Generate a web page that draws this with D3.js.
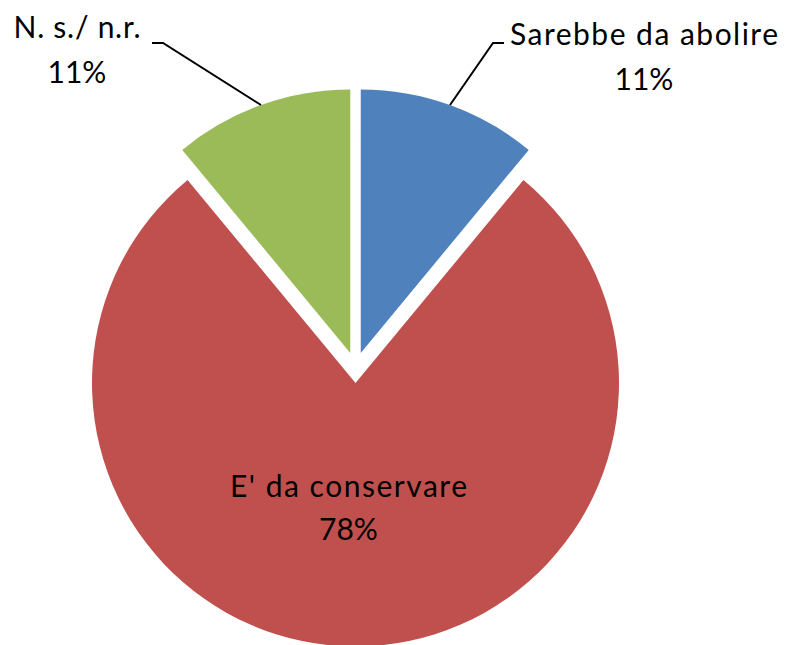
<!DOCTYPE html>
<html><head><meta charset="utf-8">
<script src="https://cdn.jsdelivr.net/npm/d3@7"></script>
<style>body{margin:0;background:#fff}svg{display:block}text{font-family:Lato,"Open Sans",sans-serif;fill:#000}</style>
</head><body>
<svg id="c" width="796" height="645"></svg>
<script>
const categories = ["Sarebbe da abolire", "E' da conservare", "N. s./ n.r."];
const values = [11, 78, 11];
const valueLabels = ["11%", "78%", "11%"];
const colors = ["#4F81BD", "#C0504D", "#9BBB59"];

const svg = d3.select("#c");
const cx = 355.5, cy = 367.5, R = 263.5, explode = 15.5;
const pie = d3.pie().sort(null).value(d => d)(values);
const arc = d3.arc().innerRadius(0).outerRadius(R);
const g = svg.append("g").attr("transform", `translate(${cx},${cy})`);

function offset(d){
  const a = (d.startAngle + d.endAngle)/2;
  return [explode*Math.sin(a), -explode*Math.cos(a)];
}
g.selectAll("path").data(pie).enter().append("path")
  .attr("d", arc)
  .attr("fill", (d,i) => colors[i])
  .attr("transform", d => { const o = offset(d); return `translate(${o[0]},${o[1]})`; });

// label layout (positions)
const labelPos = [
  {x: 644, y1: 45, y2: 90, w: 268, line: [[504,43],[493,43]]},
  {x: 348.5, y1: 497, y2: 540, w: 237, line: null},
  {x: 77, y1: 38, y2: 83, w: 127, line: [[152,43],[163,43]]}
];
pie.forEach((d,i) => {
  const p = labelPos[i];
  const t = svg.append("text").attr("text-anchor", "middle").style("font-size","30px");
  t.append("tspan").attr("x", p.x).attr("y", p.y1)
    .attr("textLength", p.w).attr("lengthAdjust", "spacing").text(categories[i]);
  t.append("tspan").attr("x", p.x).attr("y", p.y2).text(valueLabels[i]);
  if (p.line) {
    const a = (d.startAngle + d.endAngle)/2;
    const o = offset(d);
    const ex = cx + o[0] + R*Math.sin(a), ey = cy + o[1] - R*Math.cos(a);
    svg.append("polyline")
      .attr("points", [p.line[0], p.line[1], [ex, ey]].map(q => q.join(",")).join(" "))
      .attr("fill","none").attr("stroke","#000").attr("stroke-width",2);
  }
});
</script>
</body></html>
